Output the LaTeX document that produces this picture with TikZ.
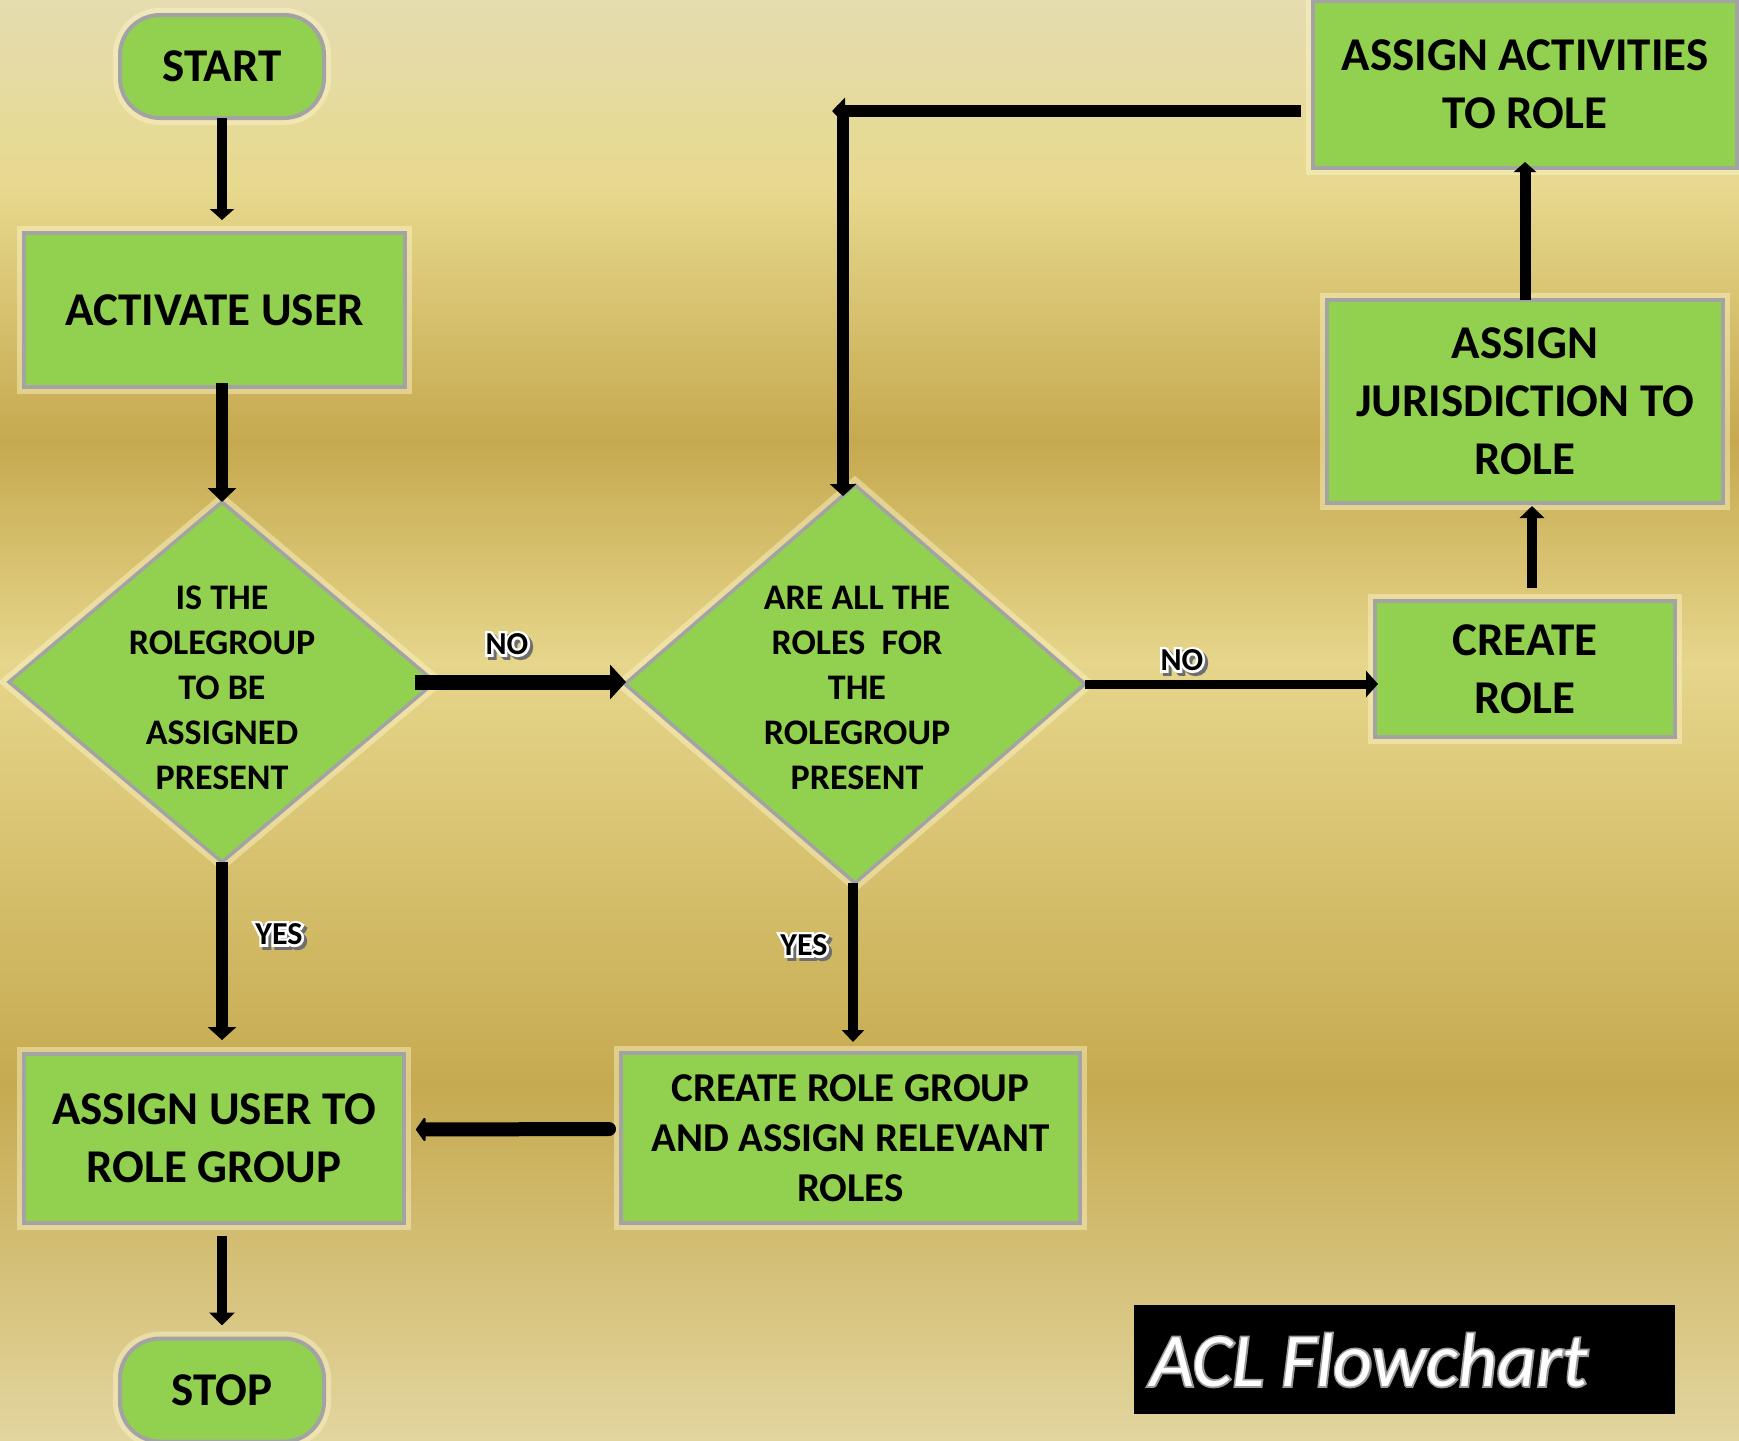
\documentclass[tikz,border=0pt]{standalone}
\usepackage{fontspec}
\setmainfont{Carlito}
\usetikzlibrary{arrows.meta,shapes.geometric,calc}
\definecolor{boxgreen}{HTML}{92D050}
\definecolor{boxgray}{HTML}{A3A3A3}
\definecolor{glowc}{HTML}{FFF6CC}
\definecolor{bgA}{HTML}{E5DCB0}
\definecolor{bgB}{HTML}{E7D98E}
\definecolor{bgC}{HTML}{C6A94F}
\definecolor{bgD}{HTML}{E6D68B}
\definecolor{bgE}{HTML}{C6AA50}
\definecolor{bgF}{HTML}{E2D59E}
\definecolor{shadowc}{HTML}{6E6E6E}
\definecolor{aclgray}{HTML}{9A9A9A}
% stroked-text helper (xdvipdfmx literal)
\newcommand\strokedtext[2]{\special{pdf:literal direct 1 Tr #1 w}#2\special{pdf:literal direct 0 Tr}}
\newcommand\lbl[4]{%
  \node[lblsty,text=shadowc] at ($(#2,#3)+(3,3)$) {\strokedtext{5}{#4}};
  \node[lblsty,text=white] at (#2,#3) {\strokedtext{5}{#4}};
  \node[lblsty] (#1) at (#2,#3) {#4};}
\begin{document}
\begin{tikzpicture}[x=1pt,y=-1pt,
  glowbox/.style={preaction={draw=glowc,line width=14pt,opacity=0.45}},
  procbox/.style={draw=boxgray,line width=4pt,fill=boxgreen,outer sep=0pt,inner sep=0pt,
     align=center,font=\fontsize{47}{58}\selectfont\bfseries,glowbox},
  termbox/.style={procbox,rounded corners=40pt,minimum width=204pt,minimum height=103pt},
  decbox/.style={shape=diamond,draw=boxgray,line width=3.5pt,fill=boxgreen,outer sep=0pt,inner sep=0pt,glowbox},
  dectext/.style={align=center,inner sep=0pt,font=\fontsize{36}{45}\selectfont\bfseries},
  lblsty/.style={inner sep=0pt,font=\fontsize{32}{38}\selectfont\bfseries},
  aclsty/.style={anchor=west,inner sep=0pt,font=\fontsize{76}{90}\selectfont\itshape},
  conn/.style={draw=black,line width=#1},
  tri/.style 2 args={-{Triangle[length=#1pt,width=#2pt]}}
]
\useasboundingbox (0,0) rectangle (1739,1440);
% background
\fill[top color=bgA,bottom color=bgB] (0,0) rectangle (1739,185);
\fill[top color=bgB,bottom color=bgC] (0,184) rectangle (1739,442);
\fill[top color=bgC,bottom color=bgD] (0,441) rectangle (1739,662);
\fill[top color=bgD,bottom color=bgE] (0,661) rectangle (1739,1085);
\fill[top color=bgE,bottom color=bgF] (0,1084) rectangle (1739,1440);

% nodes
\node[termbox] (start) at (222,66.5) {START};
\node[procbox,minimum width=381pt,minimum height=154pt] (act) at (214.5,310) {ACTIVATE USER};
\node[decbox,minimum width=426pt,minimum height=360pt] (d1) at (222,682) {};
\node[dectext] (d1t) at (222,688) {IS THE\\ROLEGROUP\\TO BE\\ASSIGNED\\PRESENT};
\node[decbox,minimum width=460pt,minimum height=398pt] (d2) at (855,684) {};
\node[dectext] (d2t) at (857,688) {ARE ALL THE\\ROLES\ \ FOR\\THE\\ROLEGROUP\\PRESENT};
\node[procbox,minimum width=300pt,minimum height=136pt] (create) at (1525,669) {CREATE\\ROLE};
\node[procbox,minimum width=396pt,minimum height=203pt] (juris) at (1525,401.5) {ASSIGN\\JURISDICTION TO\\ROLE};
\node[procbox,minimum width=424pt,minimum height=167pt] (acts) at (1525,84.5) {ASSIGN ACTIVITIES\\TO ROLE};
\node[procbox,minimum width=380pt,minimum height=169pt] (assignu) at (214,1138.5) {ASSIGN USER TO\\ROLE GROUP};
\node[procbox,minimum width=459pt,minimum height=170pt,font=\fontsize{41}{50}\selectfont\bfseries] (crg) at (850.5,1138) {CREATE ROLE GROUP\\AND ASSIGN RELEVANT\\ROLES};
\node[termbox] (stop) at (222,1390) {STOP};

% ACL flowchart caption
\node[fill=black,minimum width=541pt,minimum height=109pt,inner sep=0pt,outer sep=0pt] (aclbox) at (1404.5,1359.5) {};
\node[aclsty,text=aclgray] at (1150,1360) {\strokedtext{3.5}{ACL Flowchart}};
\node[aclsty,text=white] (acltxt) at (1150,1360) {ACL Flowchart};

% connectors
\coordinate (corner) at (843,111);
\draw[conn=10pt,tri={11}{24}] (start.south) -- ([yshift=13pt]start.south |- act.north);
\draw[conn=12pt,tri={14}{28}] ([yshift=4pt]d1.north |- act.south) -- (d1.north);
\draw[conn=15pt,tri={16}{34}] ([xshift=-20pt]d1.east) -- ([xshift=1pt]d1.east -| d2.west);
\draw[conn=9pt,tri={12}{26}] (d2.east) -- ([xshift=3pt]d2.east -| create.west);
\draw[conn=10pt,tri={12}{24}] ([xshift=7pt,yshift=13pt]create.north) -- ([xshift=7pt,yshift=-3pt]juris.south);
\draw[conn=11pt,tri={10}{22}] (juris.north) -- ([yshift=6pt]juris.north |- acts.south);
\draw[conn=12pt,tri={13}{26}] ([xshift=-12pt]acts.west |- corner) -- ([xshift=-11pt]corner);
\draw[conn=12pt,tri={12}{26}] ([yshift=6pt]corner) -- ([yshift=-11pt]corner |- d2.north);
\draw[conn=12pt,tri={13}{28}] (d1.south) -- ([yshift=14pt]d1.south |- assignu.north);
\draw[conn=10pt,tri={12}{22}] ([xshift=-2pt]d2.south) -- ([xshift=-2pt,yshift=11pt]d2.south |- crg.north);
\draw[conn=14pt,line cap=round,-{Triangle[length=10pt,width=28pt,round]}] ([xshift=-12pt,yshift=9pt]crg.west) -- ([xshift=12pt,yshift=9pt]assignu.east);
\draw[conn=10pt,tri={13}{25}] ([yshift=-13pt]stop.north |- assignu.south) -- ([yshift=13pt]stop.north);

% branch labels
\lbl{no1}{507}{644}{NO}
\lbl{no2}{1182}{660}{NO}
\lbl{yes1}{279}{934}{YES}
\lbl{yes2}{804}{945}{YES}
\end{tikzpicture}
\end{document}
